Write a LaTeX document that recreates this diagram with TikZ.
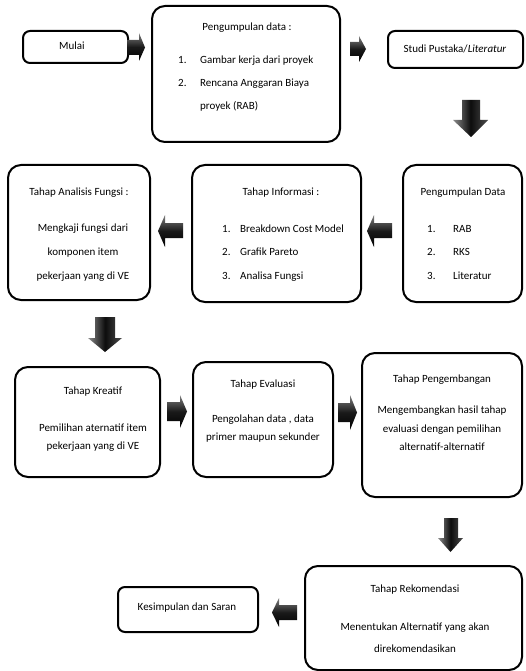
\documentclass[tikz,border=0pt]{standalone}
\usepackage{fontspec}
\setmainfont{Carlito}
\begin{document}
\begin{tikzpicture}[x=1pt,y=-1pt,
  box/.style={draw=black, line width=2pt, rounded corners=13pt, inner sep=0pt, outer sep=0pt, anchor=north west},
  sbox/.style={box, rounded corners=7pt},
  txt/.style={font=\fontsize{11}{13}\selectfont, inner sep=0pt, anchor=mid},
  ltxt/.style={txt, anchor=mid west},
  harrow/.style={top color=black!50, bottom color=black, middle color=black!90, draw=none},
  varrow/.style={left color=black!45, right color=black!70, middle color=black!95, draw=none}]
\useasboundingbox (0,0) rectangle (525,671);

% boxes
\node[sbox, minimum width=105pt, minimum height=32pt] (mulai) at (23,31) {};
\node[box, minimum width=188pt, minimum height=136pt] (pa) at (152,6) {};
\node[sbox, minimum width=135pt, minimum height=37pt] (studi) at (388,31) {};
\node[box, minimum width=142pt, minimum height=135pt] (anal) at (8,165) {};
\node[box, minimum width=169pt, minimum height=137pt] (info) at (192,165) {};
\node[box, minimum width=119pt, minimum height=137pt] (pb) at (403,165) {};
\node[box, minimum width=145pt, minimum height=110pt] (kreat) at (15,367) {};
\node[box, minimum width=140pt, minimum height=115pt] (eval) at (193,362) {};
\node[box, minimum width=160pt, minimum height=144pt] (kemb) at (362,353) {};
\node[box, minimum width=217pt, minimum height=104pt] (rekom) at (305,566) {};
\node[sbox, minimum width=140pt, minimum height=45pt] (kesim) at (118,587) {};

% texts row 1
\node[txt] (tmulai) at (72,47) {Mulai};
\node[txt] (tpa) at (247,28) {Pengumpulan data :};
\node[ltxt] (pa1n) at (178,61) {1.};
\node[ltxt] (pa1) at (200,61) {Gambar kerja dari proyek};
\node[ltxt] (pa2n) at (178,84) {2.};
\node[ltxt] (pa2) at (200,84) {Rencana Anggaran Biaya};
\node[ltxt] (pa3) at (200,107) {proyek (RAB)};
\node[txt] (tstudi) at (455,50) {Studi Pustaka/\textit{Literatur}};

% row 2
\node[txt] (tanal) at (79,193) {Tahap Analisis Fungsi :};
\node[txt] (an1) at (83,229) {Mengkaji fungsi dari};
\node[txt] (an2) at (83,253) {komponen item};
\node[txt] (an3) at (83,277) {pekerjaan yang di VE};
\node[txt] (tinfo) at (281,193) {Tahap Informasi :};
\node[ltxt] (in1n) at (222,230) {1.};
\node[ltxt] (in1) at (240,230) {Breakdown Cost Model};
\node[ltxt] (in2n) at (222,253) {2.};
\node[ltxt] (in2) at (240,253) {Grafik Pareto};
\node[ltxt] (in3n) at (222,277) {3.};
\node[ltxt] (in3) at (240,277) {Analisa Fungsi};
\node[txt] (tpb) at (463,193) {Pengumpulan Data};
\node[ltxt] (pb1n) at (427,230) {1.};
\node[ltxt] (pb1) at (453,230) {RAB};
\node[ltxt] (pb2n) at (427,253) {2.};
\node[ltxt] (pb2) at (453,253) {RKS};
\node[ltxt] (pb3n) at (427,277) {3.};
\node[ltxt] (pb3) at (453,277) {Literatur};

% row 3
\node[txt] (tkreat) at (93,392) {Tahap Kreatif};
\node[txt] (kr1) at (93,429) {Pemilihan aternatif item};
\node[txt] (kr2) at (93,447) {pekerjaan yang di VE};
\node[txt] (teval) at (263,385) {Tahap Evaluasi};
\node[txt] (ev1) at (263,420) {Pengolahan data , data};
\node[txt] (ev2) at (263,438) {primer maupun sekunder};
\node[txt] (tkemb) at (442,380) {Tahap Pengembangan};
\node[txt] (ke1) at (442,411) {Mengembangkan hasil tahap};
\node[txt] (ke2) at (442,430) {evaluasi dengan pemilihan};
\node[txt] (ke3) at (442,448) {alternatif-alternatif};

% row 4
\node[txt] (trekom) at (415,590) {Tahap Rekomendasi};
\node[txt] (re1) at (415,628) {Menentukan Alternatif yang akan};
\node[txt] (re2) at (415,650) {direkomendasikan};
\node[txt] (tkesim) at (187,608) {Kesimpulan dan Saran};

% block arrows
\shade[harrow] (127,40) -- (139,40) -- (139,33) -- (145,47.5) -- (139,61) -- (139,55) -- (127,55) -- cycle;
\shade[harrow] (350,42) -- (359,42) -- (359,36) -- (366,49) -- (359,62) -- (359,56) -- (350,56) -- cycle;
\shade[varrow] (462,100) -- (480,100) -- (480,120) -- (488,120) -- (471,137) -- (453,120) -- (462,120) -- cycle;
\shade[harrow] (183,223) -- (165,223) -- (165,215) -- (158,231) -- (165,247) -- (165,238) -- (183,238) -- cycle;
\shade[harrow] (392,223) -- (374,223) -- (374,215) -- (367,231) -- (374,247) -- (374,238) -- (392,238) -- cycle;
\shade[varrow] (95,317) -- (115,317) -- (115,338) -- (122,338) -- (105,352) -- (88,338) -- (95,338) -- cycle;
\shade[harrow] (167,402) -- (180,402) -- (180,395) -- (187,411.5) -- (180,428) -- (180,421) -- (167,421) -- cycle;
\shade[harrow] (338,403) -- (350,403) -- (350,395) -- (357,412.5) -- (350,430) -- (350,422) -- (338,422) -- cycle;
\shade[varrow] (444,518) -- (458,518) -- (458,538) -- (463,538) -- (450.5,552) -- (438,538) -- (444,538) -- cycle;
\shade[harrow] (297,605) -- (279,605) -- (279,598) -- (272,612.5) -- (279,627) -- (279,620) -- (297,620) -- cycle;
\end{tikzpicture}
\end{document}
